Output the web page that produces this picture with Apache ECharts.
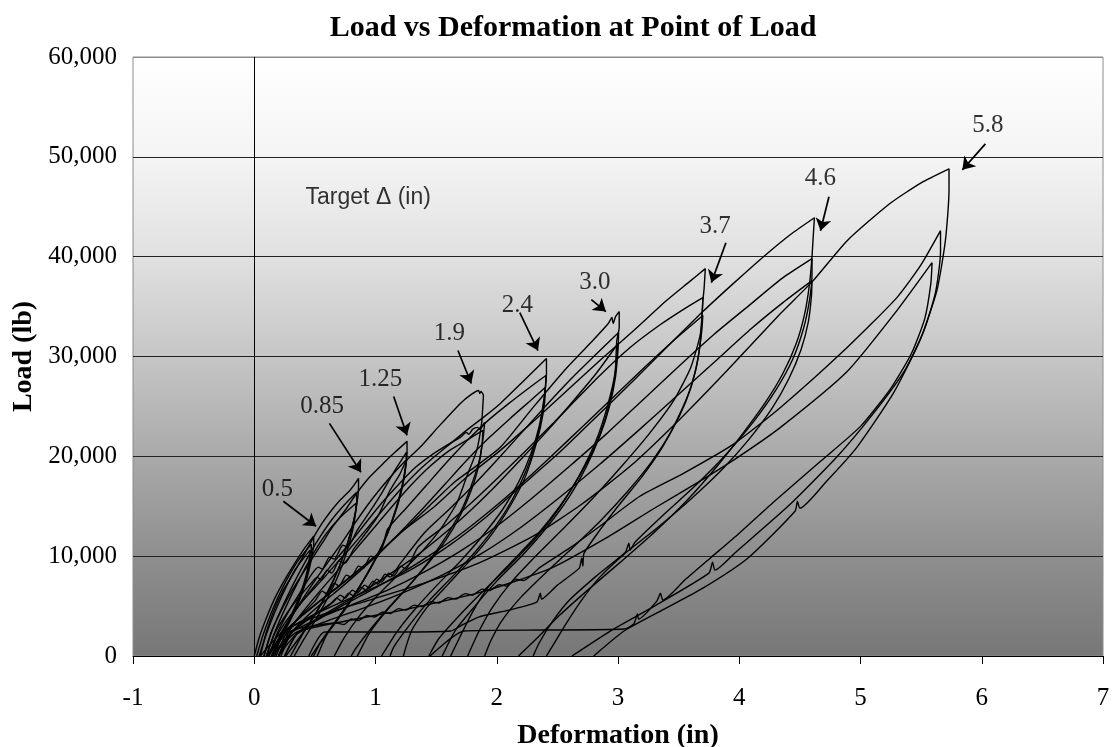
<!DOCTYPE html>
<html><head><meta charset="utf-8">
<script src="https://cdn.jsdelivr.net/npm/echarts@6/dist/echarts.min.js"></script>
<style>html,body{margin:0;padding:0;background:#fff}#c{width:1112px;height:747px}</style>
</head><body><div id="c"></div>
<script>
// ---- Cycles: [deformation (in), load (lb)] ----
const cyc05a = [[0,0],[0.04,1800],[0.1,3800],[0.17,5800],[0.25,7600],[0.33,9200],[0.41,10700],[0.49,12000],[0.49,11200],[0.47,9600],[0.43,7600],[0.37,5500],[0.29,3400],[0.2,1600],[0.12,0]];
const cyc05b = [[0.02,0],[0.07,2000],[0.13,4000],[0.2,6000],[0.28,7900],[0.37,9700],[0.47,11200],[0.47,10400],[0.45,8800],[0.41,7000],[0.35,5000],[0.27,3000],[0.19,1300],[0.14,0]];
const cyc05c = [[0.04,0],[0.1,2200],[0.17,4400],[0.25,6600],[0.34,8700],[0.46,10600],[0.455,9800],[0.43,8200],[0.38,6200],[0.31,4200],[0.23,2200],[0.17,0]];
const cyc085a = [[0.05,0],[0.1,2400],[0.17,4800],[0.24,6600],[0.32,8200],[0.4,9900],[0.49,11900],[0.56,13300],[0.625,14400],[0.7,15500],[0.79,16600],[0.86,17800],[0.86,16800],[0.84,14800],[0.8,12600],[0.74,10200],[0.66,7800],[0.56,5400],[0.45,3200],[0.34,1300],[0.26,0]];
const cyc085b = [[0.08,0],[0.14,2300],[0.22,4600],[0.31,6900],[0.41,9200],[0.52,11500],[0.63,13500],[0.74,15100],[0.845,16400],[0.845,15400],[0.82,13500],[0.77,11300],[0.7,8900],[0.61,6500],[0.5,4100],[0.39,2000],[0.3,0]];
const cyc085c = [[0.1,0],[0.17,2400],[0.26,4900],[0.36,7400],[0.47,9900],[0.59,12200],[0.71,13900],[0.84,15300],[0.835,14300],[0.81,12500],[0.76,10300],[0.69,8000],[0.6,5700],[0.5,3500],[0.4,1500],[0.33,0]];
const cyc125a = [[0.08,0],[0.14,2400],[0.22,4500],[0.3,6300],[0.38,7900],[0.47,9600],[0.56,11300],[0.65,13000],[0.75,14600],[0.845,16300],[0.95,17900],[1.065,19300],[1.16,20400],[1.26,21500],[1.26,20300],[1.24,18200],[1.2,16000],[1.14,13600],[1.06,11200],[0.96,8800],[0.84,6400],[0.71,4100],[0.58,2000],[0.47,0]];
const cyc125b = [[0.12,0],[0.19,2300],[0.28,4400],[0.38,6400],[0.48,8300],[0.53,8900],[0.56,8700],[0.62,9900],[0.66,9700],[0.73,11100],[0.77,10900],[0.85,12600],[0.95,14400],[1.05,16300],[1.15,18400],[1.255,20400],[1.25,19200],[1.22,17100],[1.17,14800],[1.1,12400],[1.01,10000],[0.9,7600],[0.78,5200],[0.65,3000],[0.54,1200],[0.49,0]];
const cyc125c = [[0.15,0],[0.22,2200],[0.32,4200],[0.42,6100],[0.52,7900],[0.62,9600],[0.72,11300],[0.83,13300],[0.94,15200],[1.05,16900],[1.15,18300],[1.25,19600],[1.245,18500],[1.21,16300],[1.15,13900],[1.07,11400],[0.97,9000],[0.85,6600],[0.72,4300],[0.6,2200],[0.52,0]];
const cyc19a = [[0.1,0],[0.17,2300],[0.27,4300],[0.37,5900],[0.47,7300],[0.52,7900],[0.55,7600],[0.6,8600],[0.64,8300],[0.7,9500],[0.75,9300],[0.82,10700],[0.92,12300],[1.02,14000],[1.12,16600],[1.2,18200],[1.257,19600],[1.367,20900],[1.53,23100],[1.7,25300],[1.79,26200],[1.85,26600],[1.86,26300],[1.87,26500],[1.89,26100],[1.885,25000],[1.875,23300],[1.835,20600],[1.75,17900],[1.67,15300],[1.53,12600],[1.37,10300],[1.2,8300],[1.02,6100],[0.86,3900],[0.74,1800],[0.66,0]];
const cyc19b = [[0.15,0],[0.22,2300],[0.32,4200],[0.43,6000],[0.55,7800],[0.67,9600],[0.8,11500],[0.93,13500],[1.05,15300],[1.2,17300],[1.33,18900],[1.47,20200],[1.6,21200],[1.7,21900],[1.75,22400],[1.77,22200],[1.8,22700],[1.84,22900],[1.86,22700],[1.9,23400],[1.89,22100],[1.86,19800],[1.8,17400],[1.72,14900],[1.6,12300],[1.46,9800],[1.3,7400],[1.12,5000],[0.96,2700],[0.84,800],[0.8,0]];
const cyc19c = [[0.2,0],[0.28,2300],[0.38,4100],[0.5,5900],[0.62,7600],[0.75,9400],[0.88,11300],[1.02,13300],[1.16,15300],[1.3,17200],[1.45,19000],[1.6,20500],[1.75,21600],[1.885,22600],[1.88,21300],[1.85,19000],[1.79,16600],[1.7,14100],[1.58,11600],[1.43,9200],[1.26,6800],[1.09,4500],[0.95,2300],[0.85,0]];
const cyc24a = [[0.12,0],[0.2,2300],[0.3,4100],[0.42,5800],[0.55,7500],[0.68,9300],[0.82,11200],[0.96,13200],[1.1,15200],[1.23,17000],[1.35,18500],[1.48,19900],[1.62,21300],[1.75,22600],[1.9,24000],[2.03,25300],[2.2,27300],[2.41,29800],[2.41,28300],[2.39,25800],[2.35,23000],[2.28,20200],[2.18,17400],[2.05,14700],[1.88,12000],[1.7,9500],[1.5,7000],[1.32,4600],[1.17,2300],[1.05,0]];
const cyc24b = [[0.18,0],[0.26,2200],[0.37,3900],[0.5,5500],[0.56,6500],[0.6,6200],[0.66,7300],[0.7,7000],[0.76,8100],[0.8,7900],[0.86,9000],[0.9,8800],[0.96,10000],[1.0,9800],[1.06,11000],[1.1,12700],[1.26,14900],[1.42,17100],[1.58,19300],[1.75,21500],[1.92,23500],[2.1,25300],[2.26,26800],[2.405,28100],[2.4,26600],[2.37,24000],[2.32,21300],[2.24,18500],[2.13,15700],[1.99,13000],[1.82,10400],[1.63,7900],[1.44,5500],[1.28,3100],[1.15,900],[1.12,0]];
const cyc24c = [[0.22,0],[0.3,2200],[0.42,3800],[0.56,5300],[0.72,6900],[0.88,8600],[1.05,10500],[1.22,12600],[1.4,14900],[1.58,17300],[1.76,19700],[1.94,21900],[2.12,23900],[2.27,25500],[2.4,26900],[2.395,25400],[2.36,22900],[2.3,20200],[2.22,17500],[2.1,14800],[1.96,12200],[1.79,9700],[1.6,7200],[1.42,4800],[1.3,2600],[1.23,0]];
const cyc30a = [[0.15,0],[0.25,2300],[0.38,3900],[0.53,5400],[0.7,7000],[0.88,8800],[1.06,10700],[1.25,12800],[1.45,15100],[1.65,17400],[1.85,19200],[2.03,20900],[2.3,24900],[2.58,28900],[2.8,31700],[2.92,33300],[2.95,33900],[2.96,33300],[2.98,34000],[3.01,34500],[3.01,32900],[2.99,31600],[2.975,28300],[2.91,24900],[2.82,21600],[2.69,18300],[2.52,14900],[2.32,11800],[2.1,9000],[1.88,6400],[1.68,3900],[1.52,1700],[1.44,0]];
const cyc30b = [[0.2,0],[0.3,2200],[0.45,3700],[0.62,5100],[0.68,5800],[0.72,5500],[0.78,6300],[0.82,6000],[0.88,6900],[0.92,6600],[0.98,7500],[1.02,7200],[1.08,8200],[1.12,7900],[1.2,9200],[1.4,12300],[1.6,14600],[1.8,17000],[2.0,19600],[2.2,22300],[2.4,25000],[2.6,27600],[2.8,30000],[3.005,32400],[3.0,30700],[2.98,28000],[2.93,25000],[2.85,22000],[2.74,19000],[2.6,16000],[2.42,13000],[2.22,10200],[2.0,7500],[1.82,5000],[1.66,2600],[1.55,0]];
const cyc30c = [[0.25,0],[0.35,2200],[0.5,3600],[0.68,4900],[0.88,6300],[1.08,7900],[1.3,9700],[1.52,11800],[1.75,14200],[1.98,16900],[2.2,19700],[2.42,22600],[2.62,25400],[2.82,28300],[3.0,31300],[2.99,29700],[2.96,27000],[2.9,24000],[2.81,21000],[2.68,18000],[2.52,15000],[2.33,12100],[2.12,9400],[1.93,6900],[1.8,4400],[1.7,2000],[1.62,0]];
const cyc37a = [[0.15,0],[0.25,2400],[0.4,4100],[0.58,5900],[0.78,7800],[1.0,10000],[1.2,12300],[1.48,14900],[1.75,17900],[2.03,20600],[2.31,23600],[2.58,26600],[2.85,29600],[3.13,32600],[3.4,35600],[3.58,37400],[3.72,38800],[3.71,36800],[3.7,35600],[3.68,32300],[3.6,28900],[3.46,25600],[3.26,22300],[3.03,19000],[2.8,15900],[2.56,12900],[2.32,10000],[2.12,7400],[1.96,4800],[1.85,2400],[1.76,0]];
const cyc37b = [[0.2,0],[0.3,2300],[0.45,3800],[0.65,5400],[0.71,6100],[0.75,5800],[0.81,6600],[0.85,6300],[0.91,7100],[0.95,6800],[1.01,7700],[1.05,7400],[1.11,8300],[1.15,8000],[1.21,9000],[1.25,8700],[1.35,10900],[1.6,13300],[1.85,16000],[2.1,18900],[2.35,21900],[2.6,25000],[2.85,28100],[3.1,30900],[3.35,33200],[3.55,34800],[3.7,35900],[3.695,34300],[3.68,31600],[3.64,28600],[3.56,25500],[3.44,22500],[3.28,19500],[3.08,16500],[2.86,13600],[2.63,10900],[2.4,8300],[2.2,5900],[2.04,3500],[1.95,1500],[1.9,0]];
const cyc37c = [[0.25,0],[0.35,2200],[0.52,3600],[0.72,5000],[0.95,6500],[1.2,8200],[1.45,10100],[1.7,12200],[1.95,14600],[2.2,17200],[2.45,20000],[2.7,22900],[2.95,25800],[3.2,28700],[3.45,31500],[3.7,34100],[3.69,32500],[3.66,29800],[3.6,26900],[3.5,24000],[3.37,21000],[3.2,18000],[3.0,15000],[2.85,12600],[2.72,10300],[2.71,9000],[2.70,9800],[2.68,8800],[2.5,7100],[2.37,5700],[2.36,6300],[2.33,5400],[2.1,4600],[1.85,3900],[1.7,3000],[1.62,2500],[1.2,2400],[0.58,2400],[0.45,0]];
const cyc46a = [[0.1,0],[0.25,2400],[0.45,3900],[0.7,5300],[0.98,6800],[1.3,8700],[1.6,11000],[1.9,13800],[2.2,17000],[2.5,20200],[2.85,24300],[3.12,27500],[3.4,30900],[3.7,34500],[3.95,37300],[4.2,40000],[4.42,42200],[4.62,43900],[4.61,42000],[4.6,40000],[4.58,37300],[4.54,34300],[4.47,31300],[4.36,28300],[4.21,25300],[4.03,22300],[3.81,18900],[3.57,15600],[3.3,12400],[3.02,9400],[2.75,6600],[2.52,4100],[2.35,2000],[2.18,0]];
const cyc46b = [[0.15,0],[0.3,2300],[0.52,3700],[0.8,5100],[1.1,6600],[1.4,8400],[1.7,10500],[2.0,13000],[2.3,15900],[2.6,19000],[2.9,22200],[3.2,25600],[3.5,29000],[3.8,32300],[4.1,35300],[4.35,37800],[4.6,39800],[4.6,38200],[4.58,35700],[4.53,32800],[4.44,29700],[4.3,26600],[4.12,23500],[3.9,20300],[3.65,17200],[3.38,14200],[3.14,11400],[3.1,10600],[3.09,11300],[3.06,10400],[2.82,8000],[2.6,5600],[2.45,3300],[2.35,1300],[2.3,0]];
const cyc46c = [[0.2,0],[0.35,2200],[0.6,3500],[0.9,4800],[1.22,6300],[1.55,8100],[1.88,10300],[2.2,12900],[2.52,15900],[2.84,19100],[3.16,22500],[3.48,26000],[3.8,29500],[4.1,32800],[4.36,35400],[4.6,37600],[4.595,36000],[4.57,33500],[4.51,30700],[4.41,27800],[4.27,24800],[4.08,21700],[3.86,18700],[3.6,15700],[3.33,12900],[3.06,10300],[2.85,7900],[2.7,5600],[2.58,3400],[2.48,1400],[2.41,0]];
const cyc58a = [[0.05,0],[0.25,2600],[0.55,4100],[0.95,5600],[1.4,7300],[1.85,9300],[2.3,12000],[2.7,15200],[3.1,19000],[3.5,23600],[3.9,28600],[4.34,34300],[4.61,37600],[4.89,41600],[5.24,45300],[5.5,47400],[5.73,48800],[5.73,46600],[5.7,41600],[5.63,36600],[5.49,31600],[5.27,26300],[4.97,20900],[4.72,17500],[4.5,14800],[4.48,15500],[4.46,14500],[4.07,9800],[3.7,6800],[3.35,4500],[3.05,2500],[2.8,0]];
const cyc58b = [[0.1,0],[0.3,2500],[0.68,3300],[0.74,3150],[0.8,3700],[0.86,3550],[0.93,4050],[0.99,3900],[1.06,4400],[1.12,4250],[1.19,4750],[1.25,4600],[1.32,5100],[1.38,4950],[1.46,5450],[1.52,5300],[1.6,5850],[1.66,5700],[1.74,6250],[1.8,6100],[1.88,6700],[1.94,6550],[2.02,7150],[2.08,7000],[2.16,7700],[2.22,7550],[2.36,8900],[2.6,10800],[2.85,13000],[3.18,16000],[3.54,18300],[3.95,21200],[4.34,24900],[4.89,30900],[5.3,35900],[5.5,39200],[5.66,42600],[5.66,40500],[5.62,36500],[5.52,32500],[5.36,28500],[5.12,24500],[4.81,20000],[4.42,15200],[3.98,10500],[3.8,8600],[3.78,9400],[3.75,8300],[3.3,5000],[2.95,2600],[2.62,0]];
const cyc58c = [[0.15,0],[0.35,2400],[0.8,3600],[1.3,4800],[1.9,6500],[2.45,8800],[2.9,11800],[3.3,14800],[3.7,17700],[4.0,20000],[4.34,22900],[4.89,28500],[5.3,34600],[5.59,39400],[5.58,37300],[5.53,33800],[5.42,30300],[5.25,26800],[5.0,23000],[4.68,19600],[4.3,15600],[4.0,12300],[3.77,9900],[3.55,7600],[3.37,5600],[3.35,6300],[3.32,5500],[3.17,3700],[3.16,4200],[3.13,3200],[3.05,2700],[2.4,2600],[1.73,2500],[1.45,0]];

// ---- Annotations ----
const targetLabels = ['0.5','0.85','1.25','1.9','2.4','3.0','3.7','4.6','5.8'];
const targetLabelX = [0.19, 0.56, 1.04, 1.61, 2.17, 2.81, 3.80, 4.67, 6.05];
const targetLabelY = [16700, 25000, 27700, 32300, 35100, 37400, 43000, 47800, 53100];
const arrowStart = [[0.24,15500],[0.62,23300],[1.15,26000],[1.68,30600],[2.19,34400],[2.78,35700],[3.89,41400],[4.74,46000],[6.03,51300]];
const arrowEnd   = [[0.51,13000],[0.88,18400],[1.26,22100],[1.79,27300],[2.34,30600],[2.90,34500],[3.77,37400],[4.67,42600],[5.84,48700]];
const legendText = 'Target \u0394 (in)';
const legendPos = [0.94, 45900];

const cycles = [cyc05a,cyc05b,cyc05c,cyc085a,cyc085b,cyc085c,cyc125a,cyc125b,cyc125c,
  cyc19a,cyc19b,cyc19c,cyc24a,cyc24b,cyc24c,cyc30a,cyc30b,cyc30c,cyc37a,cyc37b,cyc37c,
  cyc46a,cyc46b,cyc46c,cyc58a,cyc58b,cyc58c];

const chart = echarts.init(document.getElementById('c'), null, {renderer:'canvas'});
const serif = 'Liberation Serif, Times New Roman, serif';

const series = cycles.map((d,i)=>({
  type:'line', data:d, showSymbol:false, symbol:'none', smooth:0.2,
  lineStyle:{color:'#000', width:1.4}, animation:false, silent:true, z:3
}));

series.push({
  type:'scatter', name:'labels', animation:false, silent:true, symbolSize:1,
  itemStyle:{color:'rgba(0,0,0,0)'}, z:5,
  data: targetLabels.map((t,i)=>[targetLabelX[i], targetLabelY[i], t]),
  label:{show:true, position:'inside', formatter:p=>p.value[2], fontFamily:serif, fontSize:25, color:'#000'},
  markLine:{
    silent:true, animation:false, symbol:['none','arrow'], symbolSize:12,
    lineStyle:{color:'#000', width:1.7, type:'solid'}, label:{show:false},
    data: arrowStart.map((s,i)=>[{coord:s},{coord:arrowEnd[i]}])
  }
});
series.push({
  type:'scatter', name:'legend', animation:false, silent:true, symbolSize:1,
  itemStyle:{color:'rgba(0,0,0,0)'}, z:5,
  data:[[legendPos[0], legendPos[1], legendText]],
  label:{show:true, position:'inside', formatter:p=>p.value[2], fontFamily:'Liberation Sans, Arial, sans-serif', fontSize:23, color:'#000'}
});
series.push({
  type:'line', name:'zero', data:[], animation:false, silent:true, z:2,
  markLine:{silent:true, animation:false, symbol:['none','none'], label:{show:false},
    lineStyle:{color:'#000', width:1, type:'solid'}, data:[{xAxis:0}]}
});

chart.setOption({
  animation:false,
  backgroundColor:'#ffffff',
  title:{text:'Load vs Deformation at Point of Load', left:568, top:8, textAlign:'center',
    textStyle:{fontFamily:serif, fontWeight:'bold', fontSize:30, color:'#000'}},
  grid:{left:133, right:9, top:57, bottom:91, containLabel:false, outerBoundsMode:'none',
    show:true, borderColor:'#8c8c8c', borderWidth:1,
    backgroundColor: new echarts.graphic.LinearGradient(0,0,0,1,[
      {offset:0, color:'#ffffff'},{offset:0.17, color:'#f4f4f4'},{offset:0.33, color:'#e1e1e1'},
      {offset:0.5, color:'#c6c6c6'},{offset:0.67, color:'#a9a9a9'},{offset:0.83, color:'#8f8f8f'},
      {offset:1, color:'#777777'}])},
  xAxis:{type:'value', min:-1, max:7, interval:1,
    name:'Deformation (in)', nameLocation:'middle', nameGap:66,
    nameTextStyle:{fontFamily:serif, fontWeight:'bold', fontSize:28, color:'#000'},
    axisLine:{show:true, onZero:false, lineStyle:{color:'#000', width:1}},
    axisTick:{show:true, length:8, lineStyle:{color:'#000'}},
    axisLabel:{fontFamily:serif, fontSize:25, color:'#000', margin:30},
    splitLine:{show:false}},
  yAxis:{type:'value', min:0, max:60000, interval:10000,
    name:'Load (lb)', nameLocation:'middle', nameGap:88, nameRotate:90,
    nameTextStyle:{fontFamily:serif, fontWeight:'bold', fontSize:28, color:'#000'},
    axisLine:{show:true, lineStyle:{color:'#8c8c8c'}},
    axisTick:{show:false},
    axisLabel:{fontFamily:serif, fontSize:25, color:'#000', margin:16,
      formatter:v=>v.toLocaleString('en-US')},
    splitLine:{show:true, lineStyle:{color:['#000','#222','#222','#222','#222','#222','#8c8c8c'], width:1}}},
  series: series
});
</script></body></html>
